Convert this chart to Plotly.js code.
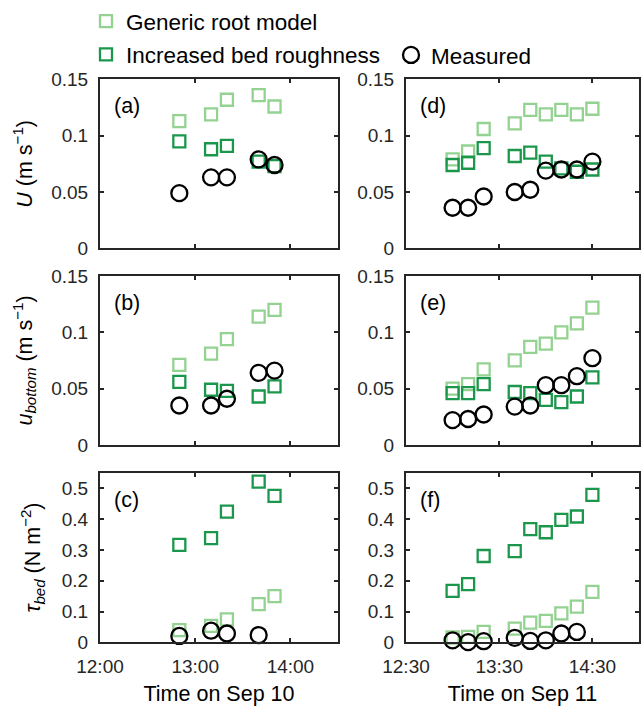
<!DOCTYPE html>
<html>
<head>
<meta charset="utf-8">
<script src="https://cdn.plot.ly/plotly-3.0.1.min.js"></script>
<style>html,body{margin:0;padding:0;background:#fff;}#chart{width:641px;height:706px;}</style>
</head>
<body>
<div id="chart"></div>
<script>
// ---- Data ----
var day10 = "2020-09-10";
var day11 = "2020-09-11";
var times10 = ["12:50", "13:10", "13:20", "13:40", "13:50"];
var times11 = ["13:00", "13:10", "13:20", "13:40", "13:50", "14:00", "14:10", "14:20", "14:30"];

var genericU10 = [0.113, 0.119, 0.132, 0.136, 0.126];
var increasedU10 = [0.095, 0.088, 0.091, 0.077, 0.073];
var measuredU10 = [0.049, 0.063, 0.063, 0.079, 0.074];

var genericUb10 = [0.071, 0.081, 0.094, 0.114, 0.120];
var increasedUb10 = [0.056, 0.049, 0.048, 0.043, 0.052];
var measuredUb10 = [0.035, 0.035, 0.041, 0.064, 0.066];

var genericTau10 = [0.040, 0.054, 0.075, 0.124, 0.150];
var increasedTau10 = [0.316, 0.338, 0.424, 0.521, 0.475];
var measuredTau10 = [0.021, 0.038, 0.029, 0.024, null];

var genericU11 = [0.079, 0.086, 0.106, 0.111, 0.123, 0.119, 0.123, 0.119, 0.124];
var increasedU11 = [0.074, 0.076, 0.089, 0.082, 0.085, 0.077, 0.071, 0.068, 0.070];
var measuredU11 = [0.036, 0.036, 0.046, 0.050, 0.052, 0.069, 0.070, 0.070, 0.077];

var genericUb11 = [0.050, 0.054, 0.067, 0.075, 0.087, 0.090, 0.100, 0.108, 0.122];
var increasedUb11 = [0.046, 0.046, 0.054, 0.047, 0.046, 0.040, 0.038, 0.043, 0.060];
var measuredUb11 = [0.022, 0.023, 0.027, 0.034, 0.035, 0.053, 0.053, 0.061, 0.077];

var genericTau11 = [0.016, 0.018, 0.034, 0.045, 0.064, 0.070, 0.094, 0.116, 0.164];
var increasedTau11 = [0.167, 0.189, 0.280, 0.296, 0.367, 0.357, 0.397, 0.408, 0.478];
var measuredTau11 = [0.007, 0.001, 0.004, 0.015, 0.005, 0.007, 0.029, 0.034, null];

var seriesNames = ["Generic root model", "Increased bed roughness", "Measured"];
var panelLabels = ["(a)", "(b)", "(c)", "(d)", "(e)", "(f)"];
var tickText10 = ["12:00", "13:00", "14:00"];
var tickText11 = ["12:30", "13:30", "14:30"];

// ---- Styles ----
var lightGreen = "#93d290";
var darkGreen = "#1b974c";
var ink = "#262626";
var FONT = "Arial, 'Liberation Sans', sans-serif";

function stamp(day, arr) { return arr.map(function (t) { return day + " " + t; }); }
var x10 = stamp(day10, times10);
var x11 = stamp(day11, times11);

var panels = [
  {x: x10, g: genericU10, i: increasedU10, m: measuredU10, xa: "x", ya: "y"},
  {x: x10, g: genericUb10, i: increasedUb10, m: measuredUb10, xa: "x2", ya: "y2"},
  {x: x10, g: genericTau10, i: increasedTau10, m: measuredTau10, xa: "x3", ya: "y3"},
  {x: x11, g: genericU11, i: increasedU11, m: measuredU11, xa: "x4", ya: "y4"},
  {x: x11, g: genericUb11, i: increasedUb11, m: measuredUb11, xa: "x5", ya: "y5"},
  {x: x11, g: genericTau11, i: increasedTau11, m: measuredTau11, xa: "x6", ya: "y6"}
];

var traces = [];
panels.forEach(function (p, k) {
  traces.push({type: "scatter", mode: "markers", x: p.x, y: p.g, xaxis: p.xa, yaxis: p.ya,
    name: seriesNames[0], legendgroup: "g", showlegend: k === 0, legend: "legend",
    marker: {symbol: "square-open", size: 12, color: lightGreen, line: {width: 2.3, color: lightGreen}},
    cliponaxis: false});
  traces.push({type: "scatter", mode: "markers", x: p.x, y: p.i, xaxis: p.xa, yaxis: p.ya,
    name: seriesNames[1], legendgroup: "i", showlegend: k === 0, legend: "legend",
    marker: {symbol: "square-open", size: 12, color: darkGreen, line: {width: 2.3, color: darkGreen}},
    cliponaxis: false});
  traces.push({type: "scatter", mode: "markers", x: p.x, y: p.m, xaxis: p.xa, yaxis: p.ya,
    name: seriesNames[2], legendgroup: "m", showlegend: k === 0, legend: "legend2",
    marker: {symbol: "circle-open", size: 16, color: "#000", line: {width: 2.3, color: "#000"}},
    cliponaxis: false});
});

var W = 641, H = 706;
function dx(a, b) { return [a / W, b / W]; }
function dy(top, bot) { return [1 - bot / H, 1 - top / H]; }
var colX = [dx(100, 338), dx(406, 639)];
var rowY = [dy(75, 245), dy(273, 443), dy(471, 642)];

function xaxis(col, row) {
  var day = col === 0 ? day10 : day11;
  var start = col === 0 ? "12:00" : "12:30";
  var end = col === 0 ? "14:30" : "15:00";
  var tv = (col === 0 ? tickText10 : tickText11).map(function (t) { return day + " " + t; });
  var n = col * 3 + row + 1;
  var ax = {
    type: "date", domain: colX[col], anchor: "y" + (n === 1 ? "" : n),
    range: [day + " " + start, day + " " + end],
    tickvals: tv, ticktext: col === 0 ? tickText10 : tickText11,
    showticklabels: row === 2, ticks: "inside", ticklen: 4, tickwidth: 2, tickcolor: ink,
    showline: true, linewidth: 2, linecolor: ink, mirror: "allticks", showgrid: false, zeroline: false,
    tickfont: {family: FONT, size: 19, color: ink}, ticklabelstandoff: 6, fixedrange: true
  };
  if (row === 2) {
    ax.title = {text: col === 0 ? "Time on Sep 10" : "Time on Sep 11", font: {family: FONT, size: 21.5, color: "#000"}, standoff: 12};
  }
  return ax;
}
var yTitles = ["<i>U</i> (m s<sup>−1</sup>)", "<i>u<sub>bottom</sub></i> (m s<sup>−1</sup>)", "<i>τ<sub>bed</sub></i> (N m<sup>−2</sup>)"];
function yaxis(col, row) {
  var n = col * 3 + row + 1;
  var isTau = row === 2;
  var ax = {
    domain: rowY[row], anchor: "x" + (n === 1 ? "" : n),
    range: isTau ? [0, 0.55] : [0, 0.15],
    tickvals: isTau ? [0, 0.1, 0.2, 0.3, 0.4, 0.5] : [0, 0.05, 0.1, 0.15],
    ticktext: isTau ? ["0", "0.1", "0.2", "0.3", "0.4", "0.5"] : ["0", "0.05", "0.1", "0.15"],
    ticks: "inside", ticklen: 4, tickwidth: 2, tickcolor: ink,
    showline: true, linewidth: 2, linecolor: ink, mirror: "allticks", showgrid: false, zeroline: false,
    tickfont: {family: FONT, size: 19, color: ink}, ticklabelstandoff: 6, fixedrange: true
  };
  if (col === 0) {
    ax.title = {text: yTitles[row], font: {family: FONT, size: 21.5, color: "#000"}, standoff: isTau ? 15 : 13};
  }
  return ax;
}

var layout = {
  width: W, height: H, margin: {l: 0, r: 0, t: 0, b: 0},
  paper_bgcolor: "#fff", plot_bgcolor: "#fff",
  font: {family: FONT, size: 21, color: "#000"},
  legend: {x: 86 / W, xanchor: "left", y: 1 + 5 / H, yanchor: "top", bgcolor: "rgba(0,0,0,0)",
    font: {family: FONT, size: 22.5, color: "#000"}, traceorder: "grouped", tracegroupgap: 1, itemwidth: 30},
  legend2: {x: 391 / W, xanchor: "left", y: 1 - 29 / H, yanchor: "top", bgcolor: "rgba(0,0,0,0)",
    font: {family: FONT, size: 22.5, color: "#000"}, itemwidth: 30},
  annotations: [],
  showlegend: true
};
for (var c = 0; c < 2; c++) {
  for (var r = 0; r < 3; r++) {
    var n = c * 3 + r + 1;
    var suf = n === 1 ? "" : n;
    layout["xaxis" + suf] = xaxis(c, r);
    layout["yaxis" + suf] = yaxis(c, r);
    layout.annotations.push({text: panelLabels[n - 1], xref: "x" + suf + " domain", yref: "y" + suf + " domain",
      x: 0.05, y: 0.84, xanchor: "left", yanchor: "middle", showarrow: false,
      font: {family: FONT, size: 21.5, color: "#000"}});
  }
}

Plotly.newPlot("chart", traces, layout, {displayModeBar: false, staticPlot: true});
</script>
</body>
</html>
